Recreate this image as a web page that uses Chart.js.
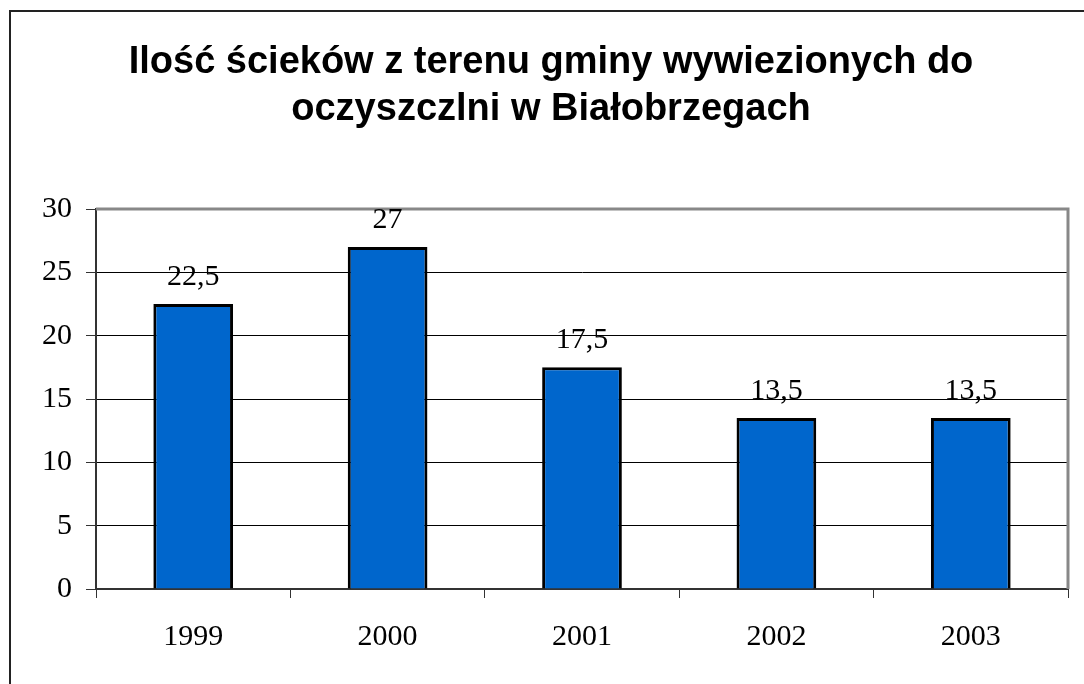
<!DOCTYPE html>
<html>
<head>
<meta charset="utf-8">
<script src="https://cdn.jsdelivr.net/npm/chart.js@4/dist/chart.umd.min.js"></script>
<style>
  html, body { margin: 0; padding: 0; background: #fff; }
  #wrap { position: relative; width: 1084px; height: 684px; }
</style>
</head>
<body>
<div id="wrap"><canvas id="chart" width="1084" height="684"></canvas></div>
<script>
// dane z wykresu
const lata = ["1999", "2000", "2001", "2002", "2003"];
const scieki = [22.5, 27, 17.5, 13.5, 13.5];
const etykiety = ["22,5", "27", "17,5", "13,5", "13,5"];
const tytul = ["Ilość ścieków z terenu gminy wywiezionych do", "oczyszczlni w Białobrzegach"];

const serif = "'Liberation Serif', 'Times New Roman', serif";

// ramka, tytul, obramowanie obszaru wykresu, etykiety nad slupkami
const dodatki = {
    id: "dodatki",
    beforeDraw(chart) {
        const ctx = chart.ctx;
        ctx.save();
        ctx.fillStyle = "#fff";
        ctx.fillRect(0, 0, chart.width, chart.height);
        ctx.strokeStyle = "#222";
        ctx.lineWidth = 2;
        ctx.strokeRect(10, 11, chart.width + 20, chart.height + 20);
        ctx.fillStyle = "#000";
        ctx.font = "bold 38px 'Liberation Sans', Arial, sans-serif";
        ctx.textAlign = "center";
        ctx.textBaseline = "alphabetic";
        ctx.fillText(tytul[0], 551, 73);
        ctx.fillText(tytul[1], 551, 120);
        ctx.restore();
    },
    afterDatasetsDraw(chart) {
        const ctx = chart.ctx;
        const a = chart.chartArea;
        ctx.save();
        ctx.strokeStyle = "#888";
        ctx.lineWidth = 3;
        ctx.beginPath();
        ctx.moveTo(a.left, a.top);
        ctx.lineTo(a.right, a.top);
        ctx.lineTo(a.right, a.bottom);
        ctx.stroke();
        ctx.fillStyle = "#000";
        ctx.font = "30px " + serif;
        ctx.textAlign = "center";
        ctx.textBaseline = "alphabetic";
        chart.getDatasetMeta(0).data.forEach((bar, i) => {
            ctx.fillText(etykiety[i], bar.x, bar.y - 19);
        });
        ctx.restore();
    }
};

new Chart(document.getElementById("chart"), {
    type: "bar",
    data: {
        labels: lata,
        datasets: [{
            data: scieki,
            backgroundColor: "#0066CC",
            borderColor: "#000",
            borderWidth: 3,
            barPercentage: 0.41,
            categoryPercentage: 1
        }]
    },
    options: {
        responsive: false,
        animation: false,
        layout: { padding: { top: 209, left: 10, right: 16, bottom: 35 } },
        plugins: {
            legend: { display: false },
            title: { display: false },
            tooltip: { enabled: false }
        },
        scales: {
            x: {
                offset: true,
                grid: {
                    offset: true,
                    drawOnChartArea: false,
                    tickLength: 9,
                    tickColor: "#333"
                },
                border: { color: "#333", width: 2 },
                ticks: { color: "#000", font: { family: serif, size: 30 }, padding: 21 },
                afterFit(scale) { scale.height = 60; }
            },
            y: {
                min: 0,
                max: 30,
                ticks: { stepSize: 5, color: "#000", font: { family: serif, size: 30 }, padding: 14 },
                grid: {
                    color: (c) => (c.tick && c.tick.value === 30) ? "rgba(0,0,0,0)" : "#000",
                    lineWidth: 1,
                    tickLength: 10,
                    tickColor: "#333"
                },
                border: { color: "#333", width: 2 },
                afterFit(scale) { scale.width = 86; }
            }
        }
    },
    plugins: [dodatki]
});
</script>
</body>
</html>
